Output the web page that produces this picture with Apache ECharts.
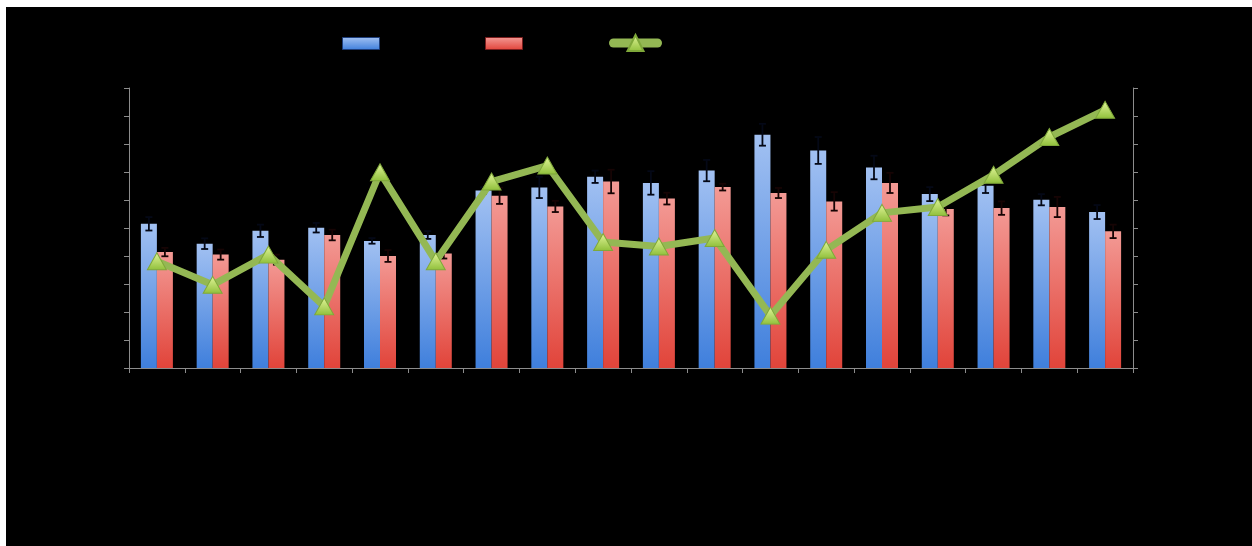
<!DOCTYPE html>
<html>
<head>
<meta charset="utf-8">
<script src="https://cdn.jsdelivr.net/npm/echarts@6/dist/echarts.min.js"></script>
<style>
  html, body { margin: 0; padding: 0; background: #ffffff; }
  #chart { position: absolute; left: 6px; top: 7px; width: 1246px; height: 539px; background: #000; }
</style>
</head>
<body>
<div id="chart"></div>
<script>
// ---- data ----
var categories = ['1','2','3','4','5','6','7','8','9','10','11','12','13','14','15','16','17','18'];
var seriesNames = ['Series 1', 'Series 2', 'Series 3'];
var blueValues = [5.15, 4.44, 4.90, 5.01, 4.54, 4.75, 6.34, 6.45, 6.83, 6.61, 7.05, 8.33, 7.77, 7.16, 6.21, 6.51, 6.01, 5.57];
var blueErrors = [0.24, 0.19, 0.22, 0.17, 0.10, 0.14, 0.11, 0.38, 0.22, 0.42, 0.38, 0.39, 0.48, 0.42, 0.25, 0.26, 0.20, 0.25];
var redValues  = [4.14, 4.05, 3.87, 4.75, 4.00, 4.09, 6.15, 5.77, 6.66, 6.05, 6.46, 6.25, 5.95, 6.61, 5.68, 5.71, 5.75, 4.88];
var redErrors  = [0.15, 0.18, 0.18, 0.19, 0.21, 0.18, 0.29, 0.20, 0.42, 0.21, 0.12, 0.18, 0.33, 0.36, 0.23, 0.24, 0.36, 0.24];
var lineValues = [3.81, 2.97, 4.05, 2.20, 6.99, 3.81, 6.66, 7.23, 4.50, 4.34, 4.64, 1.87, 4.22, 5.54, 5.75, 6.90, 8.25, 9.22];
var yTicks = { min: 0, max: 10, interval: 1 };

// ---- styles ----
var BAR_W = 16;
var axisGrey = '#8c8c8c';
var blueGrad = new echarts.graphic.LinearGradient(0, 0, 0, 1, [
  { offset: 0, color: '#a2c1f2' }, { offset: 1, color: '#3f7fdc' }
]);
var redGrad = new echarts.graphic.LinearGradient(0, 0, 0, 1, [
  { offset: 0, color: '#f39a95' }, { offset: 1, color: '#e1443a' }
]);
var triGrad = new echarts.graphic.LinearGradient(0, 0, 0, 1, [
  { offset: 0, color: '#e2f59a' }, { offset: 1, color: '#8fbf3a' }
]);

function errRender(offset, color) {
  return function (params, api) {
    var i = api.value(0), v = api.value(1), e = api.value(2);
    var hi = api.coord([i, v + e]);
    var lo = api.coord([i, v - e]);
    var x = hi[0] + offset;
    var c = 3.5;
    var st = { stroke: color, lineWidth: 1.8 };
    return {
      type: 'group',
      children: [
        { type: 'line', shape: { x1: x, y1: hi[1], x2: x, y2: lo[1] }, style: st },
        { type: 'line', shape: { x1: x - c, y1: hi[1], x2: x + c, y2: hi[1] }, style: st },
        { type: 'line', shape: { x1: x - c, y1: lo[1], x2: x + c, y2: lo[1] }, style: st }
      ]
    };
  };
}

function yAxis(pos) {
  return {
    type: 'value', position: pos, min: yTicks.min, max: yTicks.max, interval: yTicks.interval,
    axisLine: { show: true, lineStyle: { color: axisGrey, width: 1 } },
    axisTick: { show: true, length: 5, lineStyle: { color: axisGrey } },
    axisLabel: { show: false },
    splitLine: { show: false }
  };
}

var chart = echarts.init(document.getElementById('chart'));
chart.setOption({
  backgroundColor: '#000000',
  animation: false,
  legend: [
    { data: [{ name: seriesNames[0], icon: 'rect' }], left: 331, top: 25, itemWidth: 37, itemHeight: 12,
      textStyle: { color: '#000' }, itemStyle: { borderColor: '#1d3d7a', borderWidth: 1 } },
    { data: [{ name: seriesNames[1], icon: 'rect' }], left: 474, top: 25, itemWidth: 37, itemHeight: 12,
      textStyle: { color: '#000' }, itemStyle: { borderColor: '#7a1d1d', borderWidth: 1 } },
    { data: [seriesNames[2]], left: 598, top: 22, itemWidth: 44, itemHeight: 20,
      textStyle: { color: '#000' }, lineStyle: { width: 9, cap: 'round' } }
  ],
  grid: { left: 123, right: 119, top: 81, bottom: 178 },
  xAxis: {
    type: 'category', data: categories,
    axisLine: { show: true, lineStyle: { color: axisGrey, width: 1 } },
    axisTick: { show: true, length: 5, alignWithLabel: false, lineStyle: { color: axisGrey } },
    axisLabel: { show: false }
  },
  yAxis: [yAxis('left'), yAxis('right')],
  series: [
    { name: seriesNames[0], type: 'bar', data: blueValues, barWidth: BAR_W, barGap: '0%',
      itemStyle: { color: blueGrad }, z: 2 },
    { name: seriesNames[1], type: 'bar', data: redValues, barWidth: BAR_W, barGap: '0%',
      itemStyle: { color: redGrad }, z: 2 },
    { type: 'custom', renderItem: errRender(-BAR_W / 2, '#040816'), z: 3,
      data: blueValues.map(function (v, i) { return [i, v, blueErrors[i]]; }),
      encode: { x: 0, y: 1 }, silent: true },
    { type: 'custom', renderItem: errRender(BAR_W / 2, '#160404'), z: 3,
      data: redValues.map(function (v, i) { return [i, v, redErrors[i]]; }),
      encode: { x: 0, y: 1 }, silent: true },
    { name: seriesNames[2], type: 'line', yAxisIndex: 1, data: lineValues, z: 5,
      symbol: 'triangle', symbolSize: [19, 17],
      lineStyle: { color: '#94b854', width: 7, cap: 'round', join: 'round' },
      itemStyle: { color: triGrad, borderColor: '#7fa83a', borderWidth: 1 } }
  ]
});
</script>
</body>
</html>
